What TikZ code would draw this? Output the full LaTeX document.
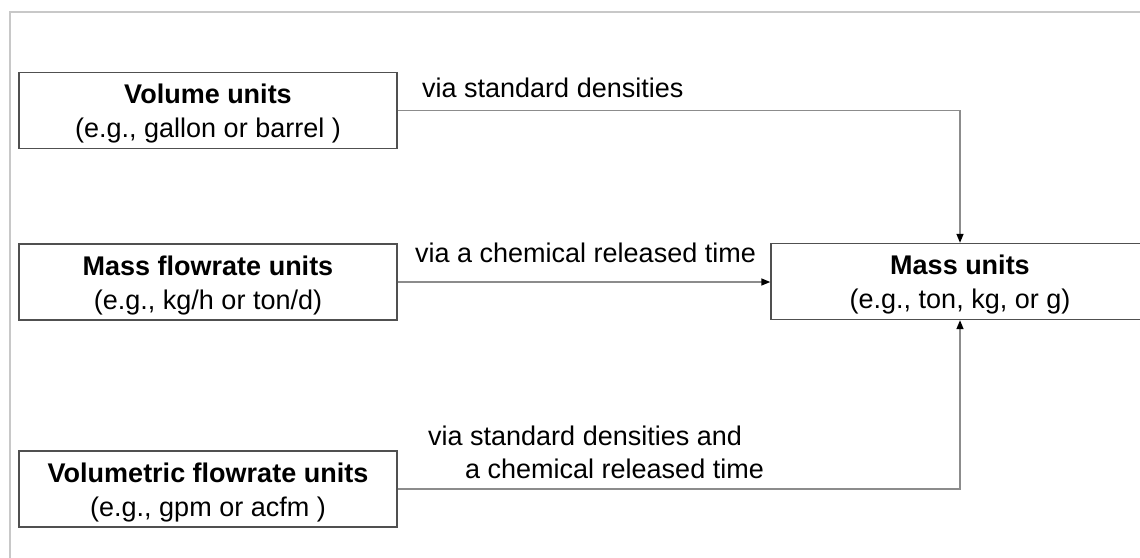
\documentclass[tikz,border=0pt]{standalone}
\usepackage{fontspec}
\setmainfont{Liberation Sans}
\usetikzlibrary{arrows.meta}
\definecolor{boxcol}{HTML}{505050}
\definecolor{linecol}{HTML}{8C8C8C}
\definecolor{framecol}{HTML}{C8C8C8}
\newcommand{\topstrut}{\rule{0pt}{26pt}}
\begin{document}
\begin{tikzpicture}[x=1pt,y=-1pt,
  box/.style={draw=boxcol, line width=1.4pt, minimum width=378pt, minimum height=76pt, inner sep=0pt, align=center, font=\fontsize{27}{34}\selectfont},
  conn/.style={draw=linecol, line width=1.4pt, -{Triangle[length=9pt,width=7pt,color=black]}},
  lbl/.style={anchor=base west, inner sep=0pt, font=\fontsize{27}{34}\selectfont}]
\useasboundingbox (0,0) rectangle (1140,557);
\clip (0,0) rectangle (1140,557);
\draw[framecol, line width=1.8pt] (10,560) -- (10,12) -- (1145,12);

\node[box] (vol) at (208,110.5) {\topstrut\textbf{Volume units}\\(e.g., gallon or barrel )};
\node[box] (mflow) at (208,282) {\topstrut\textbf{Mass flowrate units}\\(e.g., kg/h or ton/d)};
\node[box] (vflow) at (208,489) {\topstrut\textbf{Volumetric flowrate units}\\(e.g., gpm or acfm )};
\node[box] (mass) at (960,281.5) {\topstrut\textbf{Mass units}\\(e.g., ton, kg, or g)};

\draw[conn] (vol.east) -| (mass.north);
\draw[conn] (mflow.east) -- (mflow.east -| mass.west);
\draw[conn] (vflow.east) -| (mass.south);

\node[lbl] (l1) at (422,97.5) {via standard densities};
\node[lbl] (l2) at (415,262) {via a chemical released time};
\node[lbl] (l3) at (428,445) {via standard densities and};
\node[lbl] (l4) at (465,478) {a chemical released time};
\end{tikzpicture}
\end{document}
